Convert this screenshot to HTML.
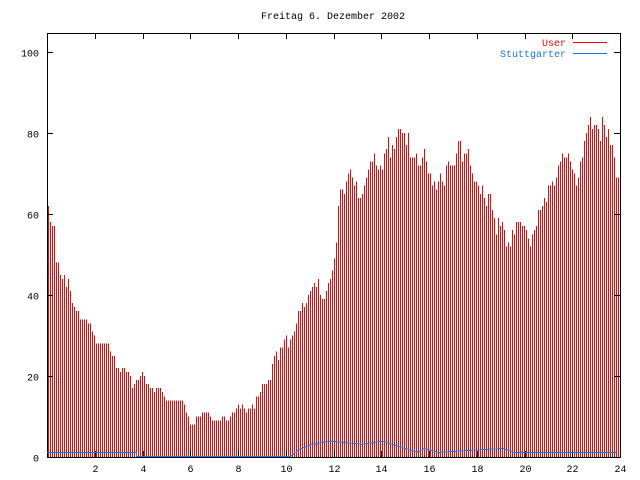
<!DOCTYPE html>
<html><head><meta charset="utf-8"><style>
html,body{margin:0;padding:0;background:#fff;}
svg{display:block;font-family:"Liberation Mono","DejaVu Sans Mono",monospace;font-size:10px;}
</style></head><body>
<svg id="chart" width="640" height="480" shape-rendering="crispEdges">
<rect x="0" y="0" width="640" height="480" fill="#fff"/>
<text x="333" y="19" text-anchor="middle">Freitag 6. Dezember 2002</text>
<g id="bars"></g>
<g id="axes"></g>
<polyline id="stline" fill="none" stroke="#1a75e8" stroke-width="1"/>
<g>
<text x="566" y="46" text-anchor="end" fill="#ff0000">User</text>
<line x1="573" y1="42.5" x2="607" y2="42.5" stroke="#ff0000"/>
<text x="566" y="57" text-anchor="end" fill="#1a75e8">Stuttgarter</text>
<line x1="573" y1="53.5" x2="607" y2="53.5" stroke="#1a75e8"/>
</g>
</svg>
<script>
const userValues=[62,58,57,57,48,48,45,44,45,42,44,41,38,37,36,36,34,34,34,34,33,33,31,30,28,28,28,28,28,28,28,26,25,25,22,22,21,22,22,21,21,20,17,18,19,19,20,21,20,18,18,17,17,16,17,17,17,16,15,14,14,14,14,14,14,14,14,14,13,11,10,8,8,8,10,10,10,11,11,11,11,10,9,9,9,9,9,10,10,9,9,10,11,11,12,13,12,13,12,11,12,12,13,12,15,15,16,18,18,18,19,19,23,25,26,24,27,27,29,30,27,29,30,31,33,36,36,38,37,38,40,41,42,43,42,44,40,39,39,41,43,44,46,49,53,62,66,66,65,68,70,71,69,67,68,64,64,65,67,69,71,73,73,75,72,71,72,71,75,76,79,74,77,76,79,81,81,80,80,77,80,74,74,74,75,72,72,74,76,73,70,70,67,68,66,68,70,68,67,72,73,72,72,72,75,78,78,73,75,75,76,72,70,68,68,67,65,67,64,62,65,65,61,59,55,59,57,58,56,52,53,52,56,55,58,58,58,57,57,56,54,52,55,56,57,61,61,62,64,63,67,67,68,67,69,72,73,75,74,74,75,73,71,70,67,69,73,74,78,80,82,84,81,82,82,81,78,84,82,79,81,77,77,74,69,69];
const stTimes=[0,3.75,3.75,10.2,10.5,10.65,11.1,11.9,13.2,14.05,15.0,15.55,15.8,16.4,19.1,19.55,23.9];
const stValues=[1,1,0,0,1.5,2,3,3.8,3,3.8,2,1,2,1,2,1,1];
const yTicks=[0,20,40,60,80,100];
const xTicks=[2,4,6,8,10,12,14,16,18,20,22,24];

const NS="http://www.w3.org/2000/svg";
const X0=47,X1=620,Y0=457,YT=33;
function xScale(h){return X0+h*(X1-X0)/24;}
function yScale(v){return Y0-v*4.05;}
function barX(i){return 48+i*2;}
function mk(tag,attrs,parent){const e=document.createElementNS(NS,tag);for(const k in attrs)e.setAttribute(k,attrs[k]);parent.appendChild(e);return e;}

const bars=document.getElementById('bars');
userValues.forEach((v,i)=>{
  const r=mk('rect',{x:barX(i),y:yScale(v),width:1,height:Y0-yScale(v),fill:'#ff0000'},bars);
  
  
});

const pts=stTimes.map((t,i)=>xScale(t).toFixed(1)+','+(yScale(stValues[i])-0.5).toFixed(1)).join(' ');
document.getElementById('stline').setAttribute('points',pts);

const ax=document.getElementById('axes');
const frame=mk('rect',{x:X0+0.5,y:YT+0.5,width:X1-X0,height:Y0-YT,fill:'none',stroke:'#000'},ax);


yTicks.forEach(v=>{
  const y=Math.round(yScale(v))+0.5;
  mk('line',{x1:X0,y1:y,x2:X0+6,y2:y,stroke:'#000'},ax);
  mk('line',{x1:X1-6,y1:y,x2:X1,y2:y,stroke:'#000'},ax);
  const t=mk('text',{x:39,y:y+4,'text-anchor':'end'},ax);
  t.textContent=v;
  
  
});
xTicks.forEach(h=>{
  const x=Math.round(xScale(h))+0.5;
  mk('line',{x1:x,y1:Y0,x2:x,y2:Y0-6,stroke:'#000'},ax);
  mk('line',{x1:x,y1:YT,x2:x,y2:YT+6,stroke:'#000'},ax);
  const t=mk('text',{x:x,y:472,'text-anchor':'middle'},ax);
  t.textContent=h;
  
  
});
</script>
</body></html>
